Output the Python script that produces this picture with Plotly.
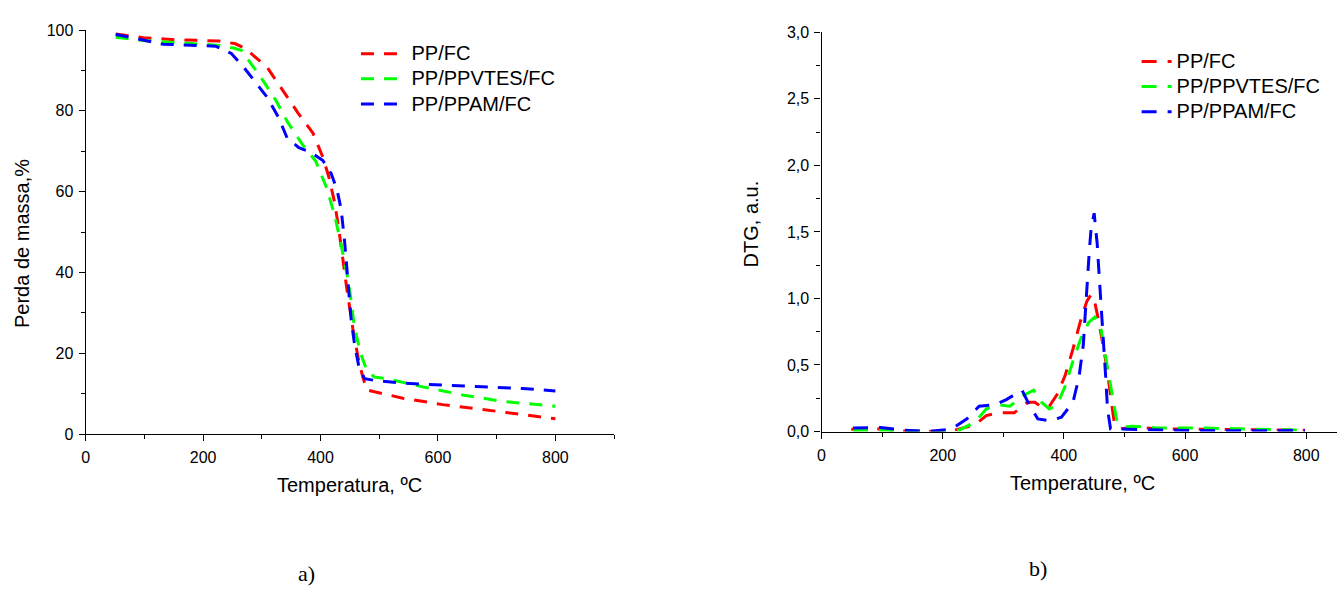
import plotly.graph_objects as go

# ---------------- data: TGA (panel a) ----------------
tga_red_T = [51, 98, 153, 227, 255, 272, 309, 336, 362, 387, 404, 414, 424, 431, 438, 445, 455, 465, 472, 479, 540, 608, 676, 744, 800]
tga_red_W = [99.0, 98.1, 97.6, 97.3, 96.6, 95.4, 90.8, 85.0, 79.4, 74.5, 68.5, 63.7, 57.3, 50.8, 42.8, 35.7, 26.1, 18.1, 14.1, 10.9, 8.9, 7.3, 6.1, 4.9, 3.8]

tga_green_T = [51, 98, 166, 227, 250, 265, 296, 323, 344, 369, 392, 411, 424, 434, 445, 451, 458, 469, 479, 492, 513, 574, 642, 710, 800]
tga_green_W = [98.2, 97.4, 96.8, 96.2, 95.6, 95.0, 88.8, 82.8, 77.2, 71.7, 67.5, 60.7, 54.1, 47.6, 39.6, 34.1, 26.1, 19.7, 15.7, 14.1, 13.7, 11.7, 9.7, 8.1, 6.9]

tga_blue_T = [51, 98, 132, 221, 248, 268, 289, 309, 329, 343, 363, 384, 404, 418, 428, 435, 441, 446, 448, 452, 458, 465, 475, 492, 540, 608, 676, 744, 800]
tga_blue_W = [98.9, 97.4, 96.5, 96.0, 94.2, 91.0, 87.0, 83.4, 78.2, 73.3, 70.9, 69.7, 67.7, 64.5, 60.5, 55.7, 47.6, 39.6, 35.7, 28.5, 22.1, 16.9, 13.7, 13.3, 12.6, 12.1, 11.7, 11.3, 10.7]

# ---------------- data: DTG (panel b) ----------------
dtg_red_T = [49, 97, 143, 175, 220, 253, 272, 292, 318, 340, 352, 365, 376, 389, 402, 415, 428, 438, 445, 451, 458, 464, 471, 477, 483, 493, 519, 552, 617, 681, 746, 798]
dtg_red_V = [0.017, 0.02, 0.0, 0.0, 0.01, 0.05, 0.12, 0.14, 0.14, 0.22, 0.22, 0.18, 0.19, 0.28, 0.42, 0.62, 0.84, 0.98, 1.03, 0.97, 0.82, 0.65, 0.48, 0.27, 0.07, 0.02, 0.035, 0.02, 0.017, 0.015, 0.01, 0.01]

dtg_green_T = [52, 100, 150, 190, 227, 253, 272, 292, 311, 331, 350, 363, 376, 389, 402, 415, 428, 441, 451, 461, 467, 474, 480, 487, 500, 513, 552, 617, 681, 746, 798]
dtg_green_V = [0.007, 0.01, 0.005, 0.0, 0.01, 0.07, 0.17, 0.2, 0.19, 0.265, 0.31, 0.22, 0.17, 0.2, 0.34, 0.53, 0.70, 0.82, 0.86, 0.78, 0.61, 0.44, 0.27, 0.09, 0.035, 0.04, 0.027, 0.027, 0.02, 0.017, 0.01]

dtg_blue_T = [52, 97, 136, 175, 214, 240, 260, 286, 305, 331, 344, 357, 376, 396, 415, 425, 432, 436, 439, 442, 445, 450, 453, 455, 458, 461, 464, 466, 469, 472, 477, 506, 552, 617, 681, 746, 798]
dtg_blue_V = [0.027, 0.03, 0.01, 0.0, 0.017, 0.095, 0.19, 0.2, 0.24, 0.31, 0.19, 0.095, 0.08, 0.107, 0.22, 0.41, 0.65, 0.95, 1.17, 1.36, 1.53, 1.64, 1.5, 1.41, 1.19, 0.99, 0.8, 0.65, 0.41, 0.17, 0.02, 0.017, 0.012, 0.007, 0.005, 0.007, 0.007]

names = ["PP/FC", "PP/PPVTES/FC", "PP/PPAM/FC"]
colors = ["#FF0000", "#00FF00", "#0000FF"]

W, H = 1340, 593
SANS = "Liberation Sans, Arial, sans-serif"
SERIF = "Liberation Serif, Times New Roman, serif"

fig = go.Figure()

for name, col, T, V in zip(names, colors,
                           [tga_red_T, tga_green_T, tga_blue_T],
                           [tga_red_W, tga_green_W, tga_blue_W]):
    fig.add_trace(go.Scatter(x=T, y=V, mode="lines",
                             name='<span style="font-size:20px">&nbsp;' + name + '</span>',
                             line=dict(color=col, width=3, dash="13px,10px"),
                             xaxis="x", yaxis="y", legend="legend"))

for name, col, T, V in zip(names, colors,
                           [dtg_red_T, dtg_green_T, dtg_blue_T],
                           [dtg_red_V, dtg_green_V, dtg_blue_V]):
    fig.add_trace(go.Scatter(x=T, y=V, mode="lines",
                             name='<span style="font-size:20px">' + name + '</span>',
                             line=dict(color=col, width=3, dash="15px,11px"),
                             xaxis="x2", yaxis="y2", legend="legend2"))

axis_common = dict(showline=True, linecolor="black", linewidth=1.3,
                   ticks="outside", ticklen=6, tickwidth=1.3, tickcolor="black",
                   showgrid=False, zeroline=False,
                   tickfont=dict(family=SANS, size=16, color="black"))
minor_common = dict(ticks="outside", ticklen=4, tickwidth=1.3, tickcolor="black", showgrid=False)

fig.update_layout(
    width=W, height=H,
    margin=dict(l=0, r=0, t=0, b=0),
    paper_bgcolor="white", plot_bgcolor="white",
    separators=",.",
    xaxis=dict(domain=[82 / W, 611.9 / W], range=[0, 900], tick0=0, dtick=200,
               anchor="y", ticklabelstandoff=3,
               minor=dict(dtick=100, **minor_common), **axis_common),
    yaxis=dict(domain=[1 - 438.7 / H, 1 - 22.7 / H], range=[0, 100], tick0=0, dtick=20,
               anchor="x", ticklabelstandoff=2,
               minor=dict(dtick=10, **minor_common), **axis_common),
    xaxis2=dict(domain=[820 / W, 1336.5 / W], range=[0, 850], tick0=0, dtick=200,
                anchor="y2", ticklabelstandoff=3,
                minor=dict(dtick=100, **minor_common), **axis_common),
    yaxis2=dict(domain=[1 - 436 / H, 1 - 25 / H], range=[0, 3], tick0=0, dtick=0.5,
                tickformat=".1f", anchor="x2", ticklabelstandoff=2,
                minor=dict(dtick=0.25, **minor_common), **axis_common),
    legend=dict(x=353 / W, y=1 - 29 / H, xanchor="left", yanchor="top",
                bgcolor="rgba(0,0,0,0)", borderwidth=0, itemwidth=40,
                font=dict(family=SANS, size=17, color="black")),
    legend2=dict(x=1136 / W, y=1 - 37 / H, xanchor="left", yanchor="top",
                 bgcolor="rgba(0,0,0,0)", borderwidth=0,
                 font=dict(family=SANS, size=17, color="black")),
    showlegend=True,
)

ann_font = dict(family=SANS, size=20, color="black")
annotations = [
    dict(text="Perda de massa,%", x=18 / W, y=1 - 242 / H, textangle=-90, font=ann_font),
    dict(text="Temperatura, ºC", x=347 / W, y=1 - 491 / H, font=ann_font),
    dict(text="DTG, a.u.", x=749 / W, y=1 - 222 / H, textangle=-90, font=ann_font),
    dict(text="Temperature, ºC", x=1082 / W, y=1 - 489 / H, font=ann_font),
    dict(text="a)", x=303 / W, y=1 - 582 / H, font=dict(family=SERIF, size=22, color="black")),
    dict(text="b)", x=1037 / W, y=1 - 577 / H, font=dict(family=SERIF, size=22, color="black")),
]
for a in annotations:
    a.update(xref="paper", yref="paper", showarrow=False, xanchor="center", yanchor="middle")
fig.update_layout(annotations=annotations)

fig.write_html("out.html")
